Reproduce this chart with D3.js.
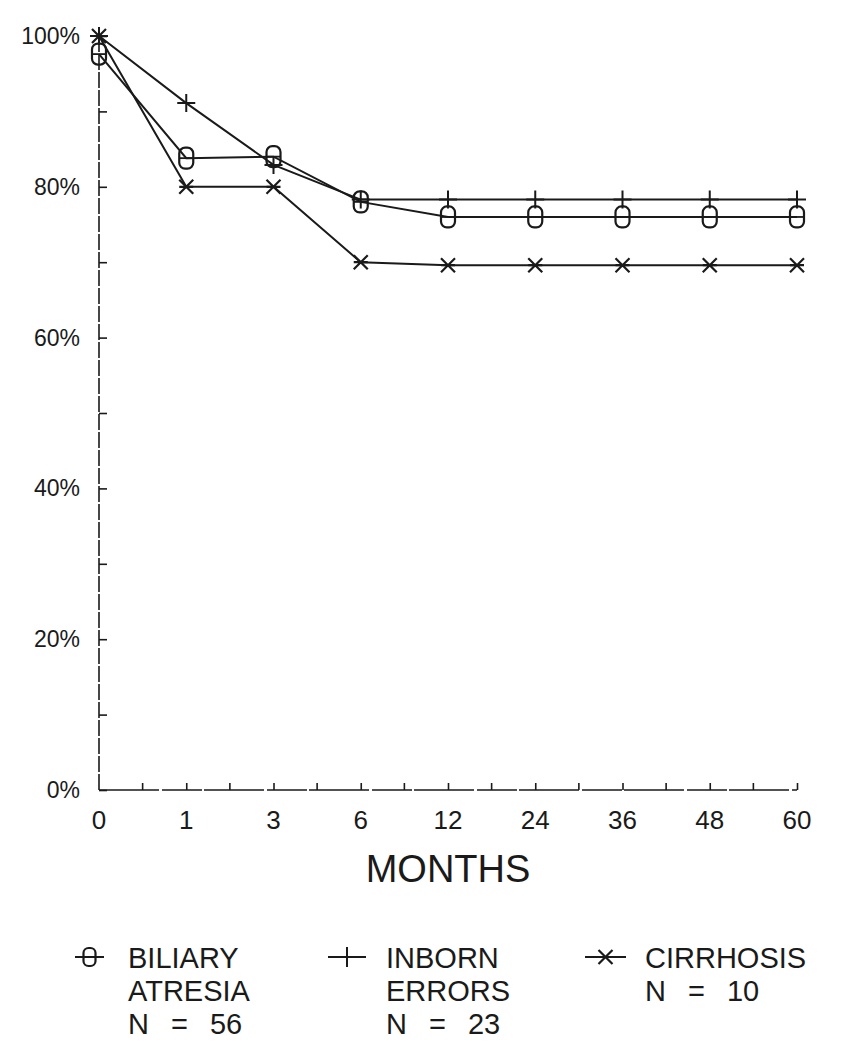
<!DOCTYPE html>
<html><head><meta charset="utf-8">
<script src="https://cdn.jsdelivr.net/npm/d3@7"></script>
<style>
html,body{margin:0;padding:0;background:#fff;}
svg text{font-family:"Liberation Sans",Arial,sans-serif;fill:#1a1a1a;}
</style></head>
<body>
<svg id="chart" width="843" height="1050"></svg>
<script>
const months = ["0","1","3","6","12","24","36","48","60"];
const biliaryAtresia = [97.6, 83.8, 84.0, 78.0, 76.0, 76.0, 76.0, 76.0, 76.0];
const inbornErrors   = [100, 91.1, 82.9, 78.3, 78.3, 78.3, 78.3, 78.3, 78.3];
const cirrhosis      = [100, 80.0, 80.0, 70.0, 69.6, 69.6, 69.6, 69.6, 69.6];
const yTicks = [0, 20, 40, 60, 80, 100];
const yMinorTicks = [10, 30, 50, 70, 90];
const seriesNames = [["BILIARY","ATRESIA","N = 56"],["INBORN","ERRORS","N = 23"],["CIRRHOSIS","N = 10"]];

const ink = "#1a1a1a";
const svg = d3.select("#chart");
const x = d3.scalePoint().domain(months).range([99, 797]);
const y = d3.scaleLinear().domain([0, 100]).range([790, 36]);

// axes
const gy = svg.append("g").attr("transform","translate(99,0)");
gy.call(d3.axisRight(y).tickValues(yTicks.concat(yMinorTicks)).tickSize(8).tickFormat(""));
gy.select(".domain").attr("d", `M0,${y(0)}V${y(100)}`).attr("stroke", ink).attr("stroke-width",1.6).attr("stroke-dasharray","16,2");
gy.selectAll(".tick line").attr("stroke", ink).attr("stroke-width",1.6);
svg.append("g").selectAll("text").data(yTicks).join("text")
  .attr("x", 80).attr("y", d => y(d) + 8).attr("text-anchor","end")
  .attr("font-size", 23).text(d => d + "%");

// x axis with ticks at categories and midpoints
const gx = svg.append("g").attr("transform", `translate(0,${y(0)})`);
gx.call(d3.axisTop(x).tickSize(7).tickFormat(""));
gx.select(".domain").attr("d", `M${x("0")},0H${x("60")}`).attr("stroke", ink).attr("stroke-width",1.6).attr("stroke-dasharray","60,3,40,2");
gx.selectAll(".tick line").attr("stroke", ink).attr("stroke-width",1.6);
gx.selectAll(".tick").filter(d => d === "0").remove();
const mids = months.slice(1).map((m,i) => (x(months[i]) + x(m)) / 2);
gx.selectAll(".mid").data(mids).join("line").attr("class","mid")
  .attr("x1", d => d).attr("x2", d => d).attr("y1", 0).attr("y2", -7)
  .attr("stroke", ink).attr("stroke-width",1.6);
svg.append("g").selectAll("text").data(months).join("text")
  .attr("x", d => x(d)).attr("y", 829).attr("text-anchor","middle")
  .attr("font-size", 26).text(d => d);
svg.append("text").attr("x", (x("0")+x("60"))/2 + 0).attr("y", 882)
  .attr("text-anchor","middle").attr("font-size", 38).text("MONTHS");

// markers
function markRect(g, cx, cy, w, h){
  g.append("rect").attr("x", cx - w/2).attr("y", cy - h/2).attr("width", w).attr("height", h)
    .attr("rx", w*0.42).attr("ry", w*0.42).attr("fill","none").attr("stroke", ink).attr("stroke-width",2.2);
  g.append("line").attr("x1", cx - w/2).attr("x2", cx + w/2).attr("y1", cy).attr("y2", cy)
    .attr("stroke", ink).attr("stroke-width",1.8);
}
function markPlus(g, cx, cy, s){
  g.append("path").attr("d", `M${cx-s},${cy}H${cx+s}M${cx},${cy-s}V${cy+s}`)
    .attr("stroke", ink).attr("stroke-width",2).attr("fill","none");
}
function markStar(g, cx, cy, s){
  g.append("path").attr("d", `M${cx-s},${cy-s}L${cx+s},${cy+s}M${cx-s},${cy+s}L${cx+s},${cy-s}M${cx-s},${cy}H${cx+s}`)
    .attr("stroke", ink).attr("stroke-width",2.2).attr("fill","none");
}

const line = d3.line().x((d,i) => x(months[i])).y(d => y(d));
const series = [
  {vals: biliaryAtresia, mark: (g,cx,cy) => markRect(g,cx,cy,14,21)},
  {vals: inbornErrors, mark: (g,cx,cy) => markPlus(g,cx,cy,9)},
  {vals: cirrhosis, mark: (g,cx,cy) => markStar(g,cx,cy,7)}
];
series.forEach(s => {
  const g = svg.append("g");
  g.append("path").datum(s.vals).attr("d", line).attr("fill","none")
    .attr("stroke", ink).attr("stroke-width",2);
  s.vals.forEach((v,i) => s.mark(g, x(months[i]), y(v)));
});

// legend
const legX = [{sym:[75,104], text:128}, {sym:[328,366], text:386}, {sym:[585,626], text:645}];
seriesNames.forEach((names, k) => {
  const g = svg.append("g");
  const ly = 957;
  const [a,b] = legX[k].sym;
  g.append("line").attr("x1",a).attr("x2",b).attr("y1",ly).attr("y2",ly).attr("stroke",ink).attr("stroke-width",2);
  const cx = (a+b)/2;
  if (k===0) markRect(g, cx, ly, 12, 18);
  if (k===1) markPlus(g, cx, ly, 10);
  if (k===2) markStar(g, cx, ly, 7);
  names.forEach((t,j) => {
    g.append("text").attr("x", legX[k].text).attr("y", 968 + j*33).attr("font-size", 29)
      .attr("word-spacing", t.startsWith("N") ? 14 : 0).text(t);
  });
});
</script>
</body></html>
